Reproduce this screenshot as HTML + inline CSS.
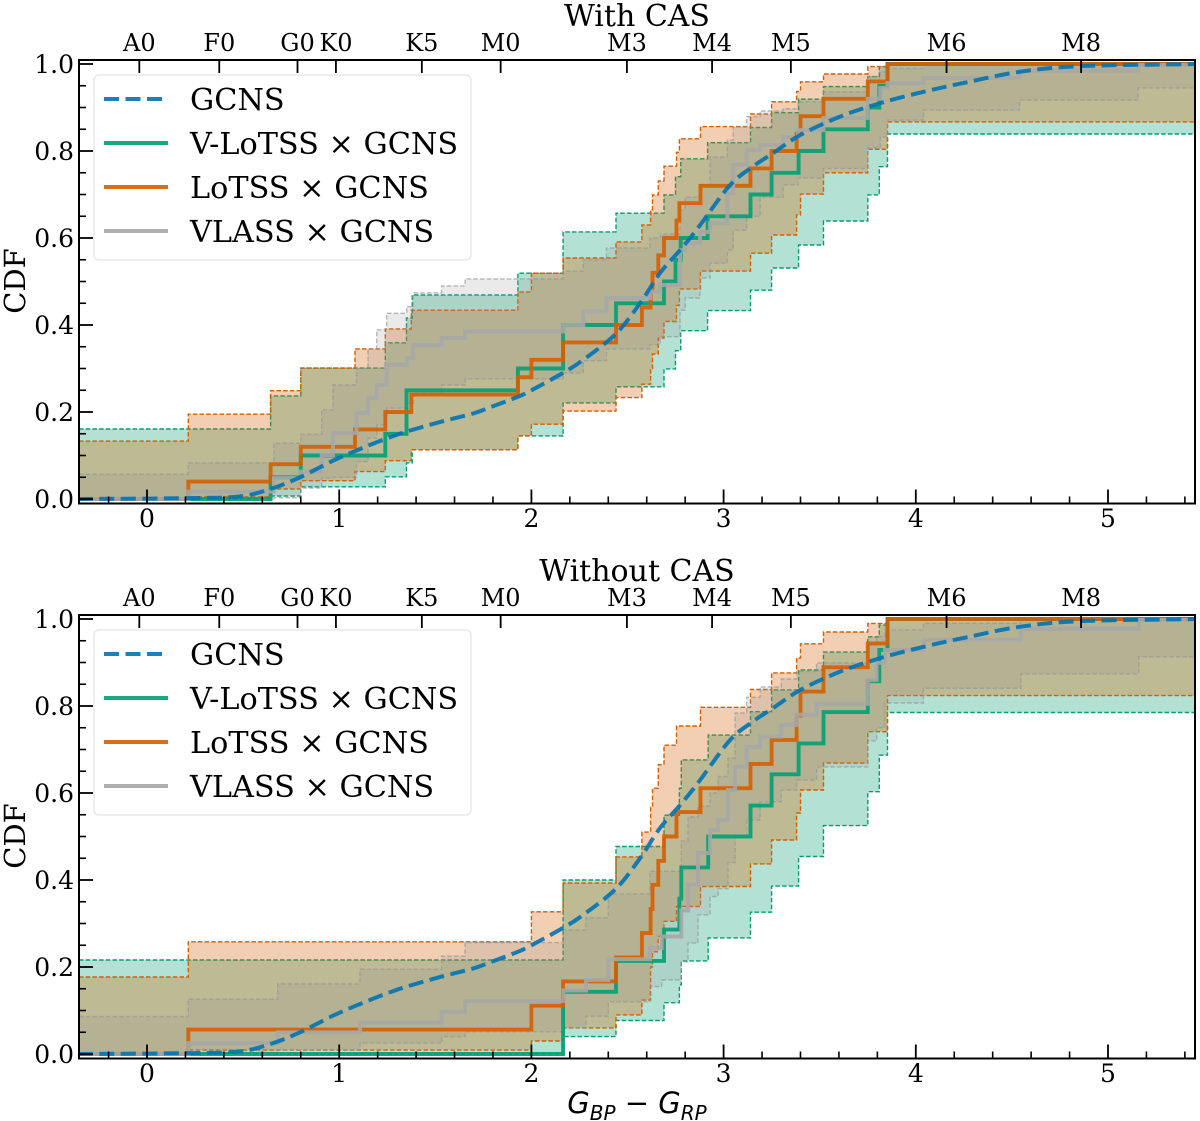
<!DOCTYPE html>
<html>
<head>
<meta charset="utf-8">
<title>CDF of colour with and without CAS</title>
<style>
html,body{margin:0;padding:0;background:#fff;}
svg{display:block;}
text{font-family:"DejaVu Serif","Liberation Serif",serif;fill:#000;}
.math{font-family:"DejaVu Sans","Liberation Sans",sans-serif;font-style:italic;}
</style>
</head>
<body>
<svg id="fig" xmlns="http://www.w3.org/2000/svg" width="1200" height="1121" viewBox="0 0 1200 1121"></svg>
<script>
// ---- shared categories and tick labels ----
const xTickValues = [0, 1, 2, 3, 4, 5];
const yTickValues = [0, 0.2, 0.4, 0.6, 0.8, 1.0];
const yTickLabels = ['0.0', '0.2', '0.4', '0.6', '0.8', '1.0'];
const spectralTypes = ['A0', 'F0', 'G0', 'K0', 'K5', 'M0', 'M3', 'M4', 'M5', 'M6', 'M8'];
const spectralColors = [-0.04, 0.376, 0.783, 0.983, 1.43, 1.84, 2.497, 2.94, 3.35, 4.16, 4.86];
const legendLabels = ['GCNS', 'V-LoTSS \u00d7 GCNS', 'LoTSS \u00d7 GCNS', 'VLASS \u00d7 GCNS'];

// ---- GCNS reference curve (same in both panels) ----
const gcnsColor = [-0.36, 0.215, 0.484, 0.656, 0.796, 0.968, 1.108, 1.24, 1.35, 1.533, 1.70, 1.793, 1.93, 2.0, 2.165, 2.27, 2.44, 2.565, 2.67, 2.773, 2.87, 3.03, 3.145, 3.257, 3.40, 3.606, 3.815, 4.04, 4.265, 4.54, 4.854, 5.45];
const gcnsCdf = [0, 0.002, 0.006, 0.025, 0.05, 0.088, 0.115, 0.138, 0.155, 0.178, 0.197, 0.212, 0.235, 0.25, 0.29, 0.32, 0.38, 0.45, 0.52, 0.572, 0.625, 0.72, 0.762, 0.795, 0.837, 0.879, 0.91, 0.936, 0.958, 0.982, 0.995, 1.0];

// ---- With CAS: V-LoTSS ----
const withVlotssX = [0.643, 0.80, 1.24, 1.35, 1.38, 1.93, 2.165, 2.44, 2.69, 2.75, 2.777, 2.917, 3.14, 3.25, 3.39, 3.52, 3.75, 3.81, 3.853];
const withVlotssCdf = [0, 0.05, 0.10, 0.15, 0.25, 0.25, 0.30, 0.40, 0.45, 0.50, 0.55, 0.60, 0.65, 0.70, 0.75, 0.80, 0.85, 0.90, 0.95, 1.0];
const withVlotssUpper = [0.161, 0.237, 0.301, 0.359, 0.416, 0.469, 0.519, 0.614, 0.657, 0.699, 0.741, 0.782, 0.819, 0.854, 0.888, 0.919, 0.948, 0.971, 0.994, 1.0];
const withVlotssLower = [0, 0.007, 0.028, 0.051, 0.083, 0.113, 0.145, 0.221, 0.258, 0.299, 0.341, 0.387, 0.433, 0.48, 0.531, 0.584, 0.639, 0.699, 0.764, 0.839];

// ---- With CAS: LoTSS ----
const withLotssX = [0.215, 0.643, 0.80, 1.082, 1.24, 1.375, 1.93, 2.0, 2.165, 2.44, 2.575, 2.62, 2.63, 2.66, 2.69, 2.755, 2.77, 2.88, 3.14, 3.25, 3.38, 3.40, 3.52, 3.75, 3.853];
const withLotssCdf = [0, 0.04, 0.08, 0.12, 0.16, 0.20, 0.24, 0.28, 0.32, 0.36, 0.40, 0.44, 0.48, 0.52, 0.56, 0.60, 0.64, 0.68, 0.72, 0.76, 0.80, 0.84, 0.88, 0.92, 0.96, 1.0];
const withLotssUpper = [0.133, 0.195, 0.249, 0.301, 0.345, 0.391, 0.434, 0.476, 0.519, 0.554, 0.591, 0.63, 0.665, 0.699, 0.731, 0.765, 0.797, 0.828, 0.856, 0.885, 0.913, 0.937, 0.959, 0.977, 0.994, 1.0];
const withLotssLower = [0, 0.005, 0.023, 0.042, 0.063, 0.088, 0.113, 0.145, 0.172, 0.202, 0.233, 0.264, 0.30, 0.333, 0.37, 0.408, 0.445, 0.483, 0.524, 0.565, 0.607, 0.653, 0.701, 0.75, 0.804, 0.867];

// ---- With CAS: VLASS ----
const withVlassX = [0.215, 0.66, 0.80, 0.909, 0.968, 1.09, 1.15, 1.195, 1.247, 1.351, 1.385, 1.533, 1.655, 2.165, 2.27, 2.39, 2.617, 2.67, 2.773, 2.80, 2.877, 2.93, 3.02, 3.05, 3.12, 3.19, 3.31, 3.387, 3.52, 3.75, 3.815, 3.853, 4.04, 4.54, 5.156];
const withVlassCdf = [0, 0.017, 0.048, 0.063, 0.101, 0.152, 0.197, 0.232, 0.262, 0.308, 0.324, 0.354, 0.37, 0.385, 0.40, 0.431, 0.462, 0.477, 0.492, 0.572, 0.588, 0.614, 0.634, 0.703, 0.768, 0.802, 0.814, 0.832, 0.848, 0.876, 0.92, 0.945, 0.956, 0.968, 0.985, 0.998];
const withVlassUpper = [0.057, 0.083, 0.128, 0.149, 0.205, 0.262, 0.30, 0.345, 0.389, 0.427, 0.442, 0.474, 0.49, 0.506, 0.524, 0.55, 0.577, 0.6, 0.609, 0.664, 0.694, 0.72, 0.786, 0.825, 0.855, 0.879, 0.892, 0.897, 0.913, 0.936, 0.971, 0.982, 0.99, 1, 1, 1];
const withVlassLower = [0, 0, 0.003, 0.025, 0.048, 0.05, 0.086, 0.14, 0.17, 0.209, 0.22, 0.244, 0.262, 0.276, 0.29, 0.318, 0.345, 0.355, 0.373, 0.434, 0.462, 0.508, 0.542, 0.572, 0.618, 0.65, 0.694, 0.722, 0.738, 0.76, 0.807, 0.832, 0.871, 0.894, 0.917, 0.945];

// ---- Without CAS: V-LoTSS ----
const withoutVlotssX = [2.165, 2.44, 2.69, 2.77, 2.78, 2.92, 3.14, 3.25, 3.39, 3.52, 3.75, 3.81, 3.853];
const withoutVlotssCdf = [0, 0.143, 0.214, 0.286, 0.357, 0.429, 0.50, 0.571, 0.643, 0.714, 0.786, 0.857, 0.929, 1.0];
const withoutVlotssUpper = [0.216, 0.40, 0.477, 0.549, 0.611, 0.676, 0.733, 0.787, 0.837, 0.883, 0.924, 0.959, 0.986, 1.0];
const withoutVlotssLower = [0, 0.04, 0.077, 0.118, 0.159, 0.214, 0.267, 0.326, 0.386, 0.454, 0.525, 0.603, 0.687, 0.785];

// ---- Without CAS: LoTSS ----
const withoutLotssX = [0.215, 2.0, 2.165, 2.44, 2.575, 2.62, 2.63, 2.66, 2.69, 2.755, 2.88, 3.14, 3.25, 3.38, 3.40, 3.52, 3.75, 3.853];
const withoutLotssCdf = [0, 0.056, 0.111, 0.167, 0.222, 0.278, 0.333, 0.389, 0.444, 0.50, 0.556, 0.611, 0.667, 0.722, 0.778, 0.833, 0.889, 0.944, 1.0];
const withoutLotssUpper = [0.177, 0.258, 0.327, 0.393, 0.453, 0.51, 0.567, 0.611, 0.665, 0.71, 0.754, 0.797, 0.838, 0.876, 0.91, 0.943, 0.97, 0.99, 1.0];
const withoutLotssLower = [0, 0.009, 0.03, 0.06, 0.09, 0.124, 0.2, 0.235, 0.27, 0.305, 0.339, 0.385, 0.437, 0.492, 0.554, 0.607, 0.669, 0.741, 0.824];

// ---- Without CAS: VLASS ----
const withoutVlassX = [0.215, 0.68, 1.108, 1.533, 1.655, 2.166, 2.284, 2.40, 2.617, 2.678, 2.78, 2.815, 2.867, 2.93, 2.972, 3.023, 3.06, 3.12, 3.19, 3.30, 3.38, 3.484, 3.75, 3.796, 3.84, 4.04, 4.547, 5.16];
const withoutVlassCdf = [0, 0.025, 0.05, 0.072, 0.097, 0.122, 0.146, 0.17, 0.218, 0.244, 0.27, 0.33, 0.39, 0.462, 0.515, 0.538, 0.607, 0.66, 0.706, 0.73, 0.756, 0.78, 0.805, 0.86, 0.899, 0.929, 0.952, 0.977, 0.998];
const withoutVlassUpper = [0.086, 0.126, 0.161, 0.195, 0.225, 0.256, 0.285, 0.313, 0.368, 0.42, 0.42, 0.49, 0.545, 0.57, 0.60, 0.638, 0.68, 0.784, 0.82, 0.844, 0.862, 0.879, 0.899, 0.94, 0.96, 0.975, 0.99, 1, 1];
const withoutVlassLower = [0, 0, 0.009, 0.025, 0.04, 0.051, 0.06, 0.087, 0.12, 0.155, 0.17, 0.212, 0.255, 0.32, 0.362, 0.38, 0.44, 0.5, 0.538, 0.58, 0.607, 0.63, 0.66, 0.72, 0.75, 0.807, 0.841, 0.874, 0.913];

// ---- drawing ----
const NS = 'http://www.w3.org/2000/svg';
const fig = document.getElementById('fig');
const AX_LEFT = 79, AX_RIGHT = 1195;
const X_ZERO = 147, X_SCALE = 192.2, Y_SCALE = 435;
const GREEN = '#029e73', ORANGE = '#d55e00', GRAY = '#a6a6a6', BLUE = '#0173b2';

function xScale(v) { return X_ZERO + X_SCALE * v; }

function mk(tag, parent) {
  const el = document.createElementNS(NS, tag);
  parent.appendChild(el);
  return el;
}
function setAll(el, props) {
  for (const k in props) el.setAttribute(k, props[k]);
  return el;
}
function stepD(xs, ys, yFn) {
  let d = 'M' + AX_LEFT + ' ' + yFn(ys[0]).toFixed(1);
  for (let i = 0; i < xs.length; i++) {
    d += 'H' + xScale(xs[i]).toFixed(1) + 'V' + yFn(ys[i + 1]).toFixed(1);
  }
  return d + 'H' + AX_RIGHT;
}
function bandD(xs, up, lo, yFn) {
  let d = stepD(xs, up, yFn);
  d += 'V' + yFn(lo[lo.length - 1]).toFixed(1);
  for (let i = xs.length - 1; i >= 0; i--) {
    d += 'H' + xScale(xs[i]).toFixed(1) + 'V' + yFn(lo[i]).toFixed(1);
  }
  return d + 'H' + AX_LEFT + 'Z';
}
function smoothD(xs, ys, yFn) {
  const pts = xs.map(function (c, i) { return [xScale(c), yFn(ys[i])]; });
  let d = 'M' + pts[0][0].toFixed(1) + ' ' + pts[0][1].toFixed(1);
  for (let i = 0; i < pts.length - 1; i++) {
    const p0 = pts[Math.max(i - 1, 0)], p1 = pts[i], p2 = pts[i + 1], p3 = pts[Math.min(i + 2, pts.length - 1)];
    const c1x = p1[0] + (p2[0] - p0[0]) / 6, c1y = p1[1] + (p2[1] - p0[1]) / 6;
    const c2x = p2[0] - (p3[0] - p1[0]) / 6, c2y = p2[1] - (p3[1] - p1[1]) / 6;
    d += 'C' + c1x.toFixed(1) + ' ' + c1y.toFixed(1) + ' ' + c2x.toFixed(1) + ' ' + c2y.toFixed(1) + ' ' + p2[0].toFixed(1) + ' ' + p2[1].toFixed(1);
  }
  return d;
}
function drawBand(root, xs, up, lo, color, fillOp, strokeOp, yFn, name) {
  const fill = mk('path', root);
  
  
  setAll(fill, { d: bandD(xs, up, lo, yFn), fill: color, 'fill-opacity': fillOp, stroke: 'none' });
  const top = mk('path', root);
  
  
  setAll(top, { d: stepD(xs, up, yFn), fill: 'none', stroke: color, 'stroke-opacity': strokeOp, 'stroke-width': 1.4, 'stroke-dasharray': '4.5 2.2' });
  const bot = mk('path', root);
  
  
  setAll(bot, { d: stepD(xs, lo, yFn), fill: 'none', stroke: color, 'stroke-opacity': strokeOp, 'stroke-width': 1.4, 'stroke-dasharray': '4.5 2.2' });
}
function drawStep(root, xs, ys, color, op, yFn, name) {
  const p = mk('path', root);
  
  
  setAll(p, { d: stepD(xs, ys, yFn), fill: 'none', stroke: color, 'stroke-opacity': op, 'stroke-width': 3.9, 'stroke-linejoin': 'miter' });
}
function tick(root, x1, y1, x2, y2, w, name) {
  const l = mk('line', root);
  
  
  setAll(l, { x1: x1, y1: y1, x2: x2, y2: y2, stroke: '#000', 'stroke-width': w });
}
function label(root, x, y, str, size, anchor, name) {
  const t = mk('text', root);
  
  
  setAll(t, { x: x, y: y, 'font-size': size, 'text-anchor': anchor });
  t.textContent = str;
  return t;
}

function drawPanel(id, offset, title, series) {
  const top = 60 + offset, bottom = 503.5 + offset, y0 = 499 + offset;
  const yFn = function (v) { return y0 - Y_SCALE * v; };
  const g = mk('g', fig);
  
  

  const defs = mk('defs', g);
  const clip = mk('clipPath', defs);
  clip.setAttribute('id', id + '-clip');
  const rect = mk('rect', clip);
  setAll(rect, { x: AX_LEFT, y: top, width: AX_RIGHT - AX_LEFT, height: bottom - top });

  const plot = mk('g', g);
  
  
  plot.setAttribute('clip-path', 'url(#' + id + '-clip)');

  drawBand(plot, series.vlotss.x, series.vlotss.up, series.vlotss.lo, GREEN, 0.3, 1, yFn, 'v-lotss');
  drawBand(plot, series.lotss.x, series.lotss.up, series.lotss.lo, ORANGE, 0.3, 1, yFn, 'lotss');
  drawBand(plot, series.vlass.x, series.vlass.up, series.vlass.lo, '#949494', 0.2, 0.65, yFn, 'vlass');
  drawStep(plot, series.vlotss.x, series.vlotss.cdf, GREEN, 0.9, yFn, 'v-lotss');
  drawStep(plot, series.lotss.x, series.lotss.cdf, ORANGE, 0.9, yFn, 'lotss');
  drawStep(plot, series.vlass.x, series.vlass.cdf, GRAY, 0.9, yFn, 'vlass');

  const gc = mk('path', plot);
  
  
  setAll(gc, {
    d: smoothD(gcnsColor, gcnsCdf, yFn),
    fill: 'none', stroke: BLUE, 'stroke-opacity': 0.9, 'stroke-width': 4, 'stroke-dasharray': '15 6.5'
  });

  // minor x ticks every 0.2, major x ticks with labels
  for (let k = -1; k <= 27; k++) {
    const v = k * 0.2;
    if (k % 5 === 0) continue;
    const px = xScale(v);
    if (px < AX_LEFT || px > AX_RIGHT) continue;
    tick(g, px, bottom, px, bottom - 7, 1.6, 'x-minor-tick');
  }
  xTickValues.forEach(function (v) {
    tick(g, xScale(v), bottom, xScale(v), bottom - 14, 1.8, 'x-major-tick');
    label(g, xScale(v), 527 + offset, String(v), 25, 'middle', 'x-tick-label');
  });

  // y ticks
  for (let k = 0; k <= 20; k++) {
    if (k % 4 === 0) continue;
    tick(g, AX_LEFT, yFn(k * 0.05), AX_LEFT + 7, yFn(k * 0.05), 1.6, 'y-minor-tick');
  }
  yTickValues.forEach(function (v, i) {
    tick(g, AX_LEFT, yFn(v), AX_LEFT + 14, yFn(v), 1.8, 'y-major-tick');
    label(g, 74, yFn(v) + 9, yTickLabels[i], 25, 'end', 'y-tick-label');
  });

  // spectral type ticks along the top
  spectralTypes.forEach(function (s, i) {
    const px = xScale(spectralColors[i]);
    tick(g, px, top, px, top + 13, 1.8, 'spectral-type-tick');
    label(g, px, 51 + offset, s, 24, 'middle', 'spectral-type-label');
  });

  // spines
  const frame = mk('rect', g);
  
  
  setAll(frame, { x: AX_LEFT, y: top, width: AX_RIGHT - AX_LEFT, height: bottom - top, fill: 'none', stroke: '#000', 'stroke-width': 2 });

  label(g, 637, 26 + offset, title, 30, 'middle', id + '-title');

  const yl = label(g, 0, 0, 'CDF', 29, 'middle', 'y-axis-title');
  yl.setAttribute('transform', 'translate(25 ' + (281 + offset) + ') rotate(-90)');

  // legend
  const lg = mk('g', g);
  
  
  const box = mk('rect', lg);
  
  
  setAll(box, { x: 94, y: 75 + offset, width: 377, height: 185, rx: 5, ry: 5, fill: '#fff', 'fill-opacity': 0.8, stroke: '#e4e4e4', 'stroke-width': 1.3 });
  const legendColors = [BLUE, GREEN, ORANGE, GRAY];
  const legendOps = [0.9, 0.9, 0.9, 0.9];
  legendLabels.forEach(function (s, i) {
    const ly = 99 + 44 * i + offset;
    const sw = mk('line', lg);
    
    
    setAll(sw, { x1: 104, y1: ly, x2: 168, y2: ly, stroke: legendColors[i], 'stroke-opacity': legendOps[i], 'stroke-width': 4 });
    if (i === 0) sw.setAttribute('stroke-dasharray', '15 6.5');
    label(lg, 190, ly + 11, s, 30.3, 'start', 'legend-entry');
  });
}

drawPanel('with-cas', 0, 'With CAS', {
  vlotss: { x: withVlotssX, cdf: withVlotssCdf, up: withVlotssUpper, lo: withVlotssLower },
  lotss: { x: withLotssX, cdf: withLotssCdf, up: withLotssUpper, lo: withLotssLower },
  vlass: { x: withVlassX, cdf: withVlassCdf, up: withVlassUpper, lo: withVlassLower }
});
drawPanel('without-cas', 555, 'Without CAS', {
  vlotss: { x: withoutVlotssX, cdf: withoutVlotssCdf, up: withoutVlotssUpper, lo: withoutVlotssLower },
  lotss: { x: withoutLotssX, cdf: withoutLotssCdf, up: withoutLotssUpper, lo: withoutLotssLower },
  vlass: { x: withoutVlassX, cdf: withoutVlassCdf, up: withoutVlassUpper, lo: withoutVlassLower }
});

// x-axis title with subscripts
const xt = mk('text', fig);


setAll(xt, { x: 637, y: 1113, 'text-anchor': 'middle', 'font-size': 29, class: 'math' });
const parts = [['G', 0, 29], ['BP', 7, 20], [' \u2212 ', -7, 29], ['G', 0, 29], ['RP', 7, 20]];
parts.forEach(function (p) {
  const ts = mk('tspan', xt);
  setAll(ts, { dy: p[1], 'font-size': p[2] });
  if (p[0].indexOf('\u2212') >= 0) ts.setAttribute('style', 'font-style:normal');
  ts.textContent = p[0].replace(/ /g, '\u00a0');
});
</script>
</body>
</html>
